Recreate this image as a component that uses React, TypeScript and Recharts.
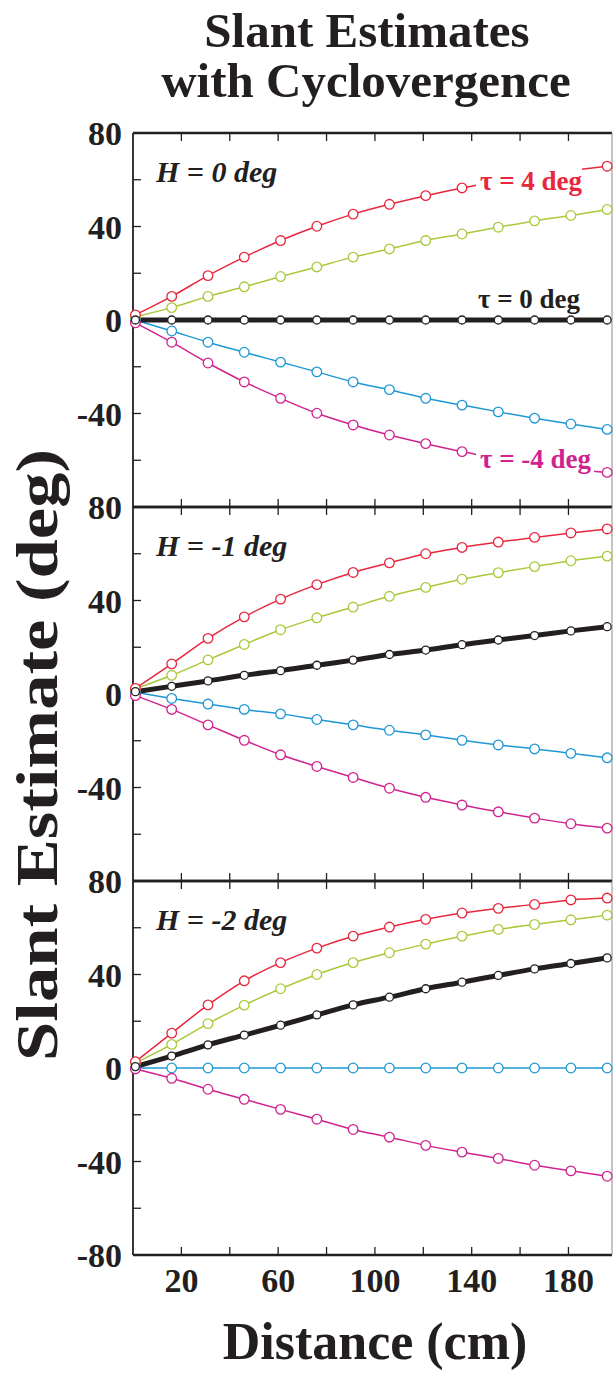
import { LineChart, Line, XAxis, YAxis } from "recharts";

const INK = "#231f20";
const RED = "#e8263c";
const GREEN = "#a9c93a";
const BLUE = "#1e98d5";
const MAGENTA = "#d0238f";
const FONT = "'Liberation Serif', 'Times New Roman', serif";

// viewing distance (cm)
const DISTANCE = [1, 16, 31, 46, 61, 76, 91, 106, 121, 136, 151, 166, 181, 196];
const X_TICKS = [20, 40, 60, 80, 100, 120, 140, 160, 180];
const Y_TICKS = [-80, -60, -40, -20, 0, 20, 40, 60, 80];

// H = 0 deg
const H0_TAU4 = [2.2, 10.1, 19.0, 26.9, 34.0, 40.1, 45.3, 49.5, 53.2, 56.5, 59.4, 62.0, 64.0, 65.8];
const H0_TAU2 = [1.4, 5.3, 10.1, 14.2, 18.6, 22.7, 26.9, 30.4, 34.0, 36.8, 39.7, 42.4, 44.7, 47.3];
const H0_TAU0 = [0, 0, 0, 0, 0, 0, 0, 0, 0, 0, 0, 0, 0, 0];
const H0_TAUM2 = [0, -4.7, -9.5, -13.8, -18.0, -22.2, -26.5, -29.8, -33.5, -36.4, -39.3, -42.0, -44.5, -46.8];
const H0_TAUM4 = [-1.2, -9.5, -18.4, -26.5, -33.5, -39.9, -44.9, -49.2, -52.9, -56.3, -59.3, -61.6, -63.6, -65.2];

// H = -1 deg
const H1_TAU4 = [2.4, 12.9, 23.8, 33.0, 40.6, 46.8, 52.0, 56.1, 60.0, 62.7, 65.0, 67.0, 68.9, 70.6];
const H1_TAU2 = [2.2, 8.0, 14.6, 21.2, 27.5, 32.6, 37.2, 41.8, 45.6, 49.1, 51.9, 54.5, 57.0, 59.0];
const H1_TAU0 = [1.0, 3.3, 5.6, 8.0, 10.0, 12.3, 14.5, 16.9, 18.8, 21.1, 23.1, 25.0, 27.0, 28.8];
const H1_TAUM2 = [0.7, -1.9, -4.3, -6.6, -8.5, -10.9, -13.2, -15.5, -17.5, -19.8, -21.8, -23.5, -25.4, -27.3];
const H1_TAUM4 = [-0.7, -6.6, -13.2, -19.8, -26.0, -31.0, -35.7, -40.3, -44.2, -47.5, -50.4, -53.1, -55.5, -57.4];

// H = -2 deg
const H2_TAU4 = [2.7, 14.9, 27.0, 37.3, 45.1, 51.3, 56.4, 60.3, 63.6, 66.3, 68.3, 70.0, 71.9, 72.7];
const H2_TAU2 = [2.1, 10.1, 19.0, 26.9, 33.9, 40.0, 45.1, 49.3, 53.0, 56.4, 59.3, 61.4, 63.4, 65.4];
const H2_TAU0 = [0.6, 5.1, 9.9, 14.1, 18.3, 22.7, 27.0, 30.3, 33.9, 36.7, 39.6, 42.4, 44.7, 47.1];
const H2_TAUM2 = [0, 0, 0, 0, 0, 0, 0, 0, 0, 0, 0, 0, 0, 0];
const H2_TAUM4 = [-0.4, -4.4, -9.1, -13.4, -17.7, -21.9, -26.3, -29.6, -33.1, -36.0, -38.7, -41.6, -44.0, -46.3];

const SERIES = [
  { key: "tauM2", color: BLUE, width: 1.5, r: 4.8 },
  { key: "tauM4", color: MAGENTA, width: 1.5, r: 4.8 },
  { key: "tau2", color: GREEN, width: 1.5, r: 4.8 },
  { key: "tau4", color: RED, width: 1.5, r: 4.8 },
  { key: "tau0", color: INK, width: 5, r: 4 },
];

function buildRows(t4: number[], t2: number[], t0: number[], m2: number[], m4: number[]) {
  return DISTANCE.map((x, i) => ({ x, tau4: t4[i], tau2: t2[i], tau0: t0[i], tauM2: m2[i], tauM4: m4[i] }));
}

const PANELS = [
  { label: "H = 0 deg", top: 133, rows: buildRows(H0_TAU4, H0_TAU2, H0_TAU0, H0_TAUM2, H0_TAUM4) },
  { label: "H = -1 deg", top: 507, rows: buildRows(H1_TAU4, H1_TAU2, H1_TAU0, H1_TAUM2, H1_TAUM4) },
  { label: "H = -2 deg", top: 881, rows: buildRows(H2_TAU4, H2_TAU2, H2_TAU0, H2_TAUM2, H2_TAUM4) },
];

const PLOT_H = 374;
const tickText = { fontFamily: FONT, fontWeight: 700, fontSize: 34, fill: INK };

function Panel({ rows, top, last }: { rows: any[]; top: number; last: boolean }) {
  const bottom = last ? 70 : 20;
  return (
    <div style={{ position: "absolute", left: 0, top: top - 21 }}>
      <LineChart
        width={614}
        height={21 + PLOT_H + 1 + bottom}
        data={rows}
        margin={{ top: 20, right: 1, bottom, left: 0 }}
      >
        <XAxis
          xAxisId="top"
          orientation="top"
          type="number"
          dataKey="x"
          domain={[0, 198]}
          ticks={X_TICKS}
          height={1}
          tickSize={-8}
          tickFormatter={() => ""}
          axisLine={{ stroke: INK, strokeWidth: 2.5 }}
          tickLine={{ stroke: INK, strokeWidth: 1.3 }}
        />
        <XAxis
          xAxisId="bottom"
          type="number"
          dataKey="x"
          domain={[0, 198]}
          ticks={X_TICKS}
          height={1}
          tickSize={-8}
          tickMargin={21}
          tick={tickText}
          tickFormatter={(v: number) => (last && (v - 20) % 40 === 0 ? String(v) : "")}
          axisLine={{ stroke: INK, strokeWidth: 2.5 }}
          tickLine={{ stroke: INK, strokeWidth: 1.3 }}
        />
        <YAxis
          yAxisId="left"
          type="number"
          domain={[-80, 80]}
          ticks={Y_TICKS}
          width={133}
          tickSize={-8}
          tickMargin={19}
          tick={tickText}
          tickFormatter={(v: number) => (v % 40 === 0 && (last || v !== -80) ? String(v) : "")}
          axisLine={{ stroke: INK, strokeWidth: 1.8 }}
          tickLine={{ stroke: INK, strokeWidth: 1.3 }}
        />
        <YAxis
          yAxisId="right"
          orientation="right"
          type="number"
          domain={[-80, 80]}
          ticks={Y_TICKS}
          width={1}
          tickSize={-8}
          tickFormatter={() => ""}
          axisLine={{ stroke: "#8a8a8a", strokeWidth: 1 }}
          tickLine={{ stroke: INK, strokeWidth: 1.3 }}
        />
        {SERIES.map((s) => (
          <Line
            key={s.key}
            xAxisId="bottom"
            yAxisId="left"
            type="monotone"
            dataKey={s.key}
            stroke={s.color}
            strokeWidth={s.width}
            dot={{ r: s.r, stroke: s.color, strokeWidth: 1.3, fill: "#fff" }}
            activeDot={false}
            isAnimationActive={false}
          />
        ))}
      </LineChart>
    </div>
  );
}

export default function App() {
  const big = { fontFamily: FONT, fontWeight: 700, fill: INK };
  return (
    <div style={{ position: "absolute", left: 0, top: 0, width: 614, height: 1373, background: "#fff" }}>
      {PANELS.map((p, i) => (
        <Panel key={p.label} rows={p.rows} top={p.top} last={i === PANELS.length - 1} />
      ))}
      <svg width={614} height={1373} style={{ position: "absolute", left: 0, top: 0, pointerEvents: "none" }}>
        <text x={367} y={47} textAnchor="middle" style={{ ...big, fontSize: 49 }}>Slant Estimates</text>
        <text x={366} y={97} textAnchor="middle" style={{ ...big, fontSize: 49 }}>with Cyclovergence</text>
        <text
          transform="translate(57,755) rotate(-90)"
          textAnchor="middle"
          textLength={612}
          lengthAdjust="spacingAndGlyphs"
          style={{ ...big, fontSize: 60 }}
        >
          Slant Estimate (deg)
        </text>
        <text x={375} y={1359} textAnchor="middle" style={{ ...big, fontSize: 52 }}>Distance (cm)</text>

        {PANELS.map((p) => (
          <text key={p.label} x={156} y={p.top + 49} style={{ ...big, fontStyle: "italic", fontSize: 30 }}>
            {p.label}
          </text>
        ))}

        <rect x={476} y={158} width={106} height={38} fill="#fff" />
        <text x={480} y={190} style={{ ...big, fontSize: 27, fill: RED }}>τ = 4 deg</text>
        <text x={478} y={308} style={{ ...big, fontSize: 27 }}>τ = 0 deg</text>
        <rect x={476} y={444} width={118} height={32} fill="#fff" />
        <text x={480} y={468} style={{ ...big, fontSize: 27, fill: MAGENTA }}>τ = -4 deg</text>
      </svg>
    </div>
  );
}
